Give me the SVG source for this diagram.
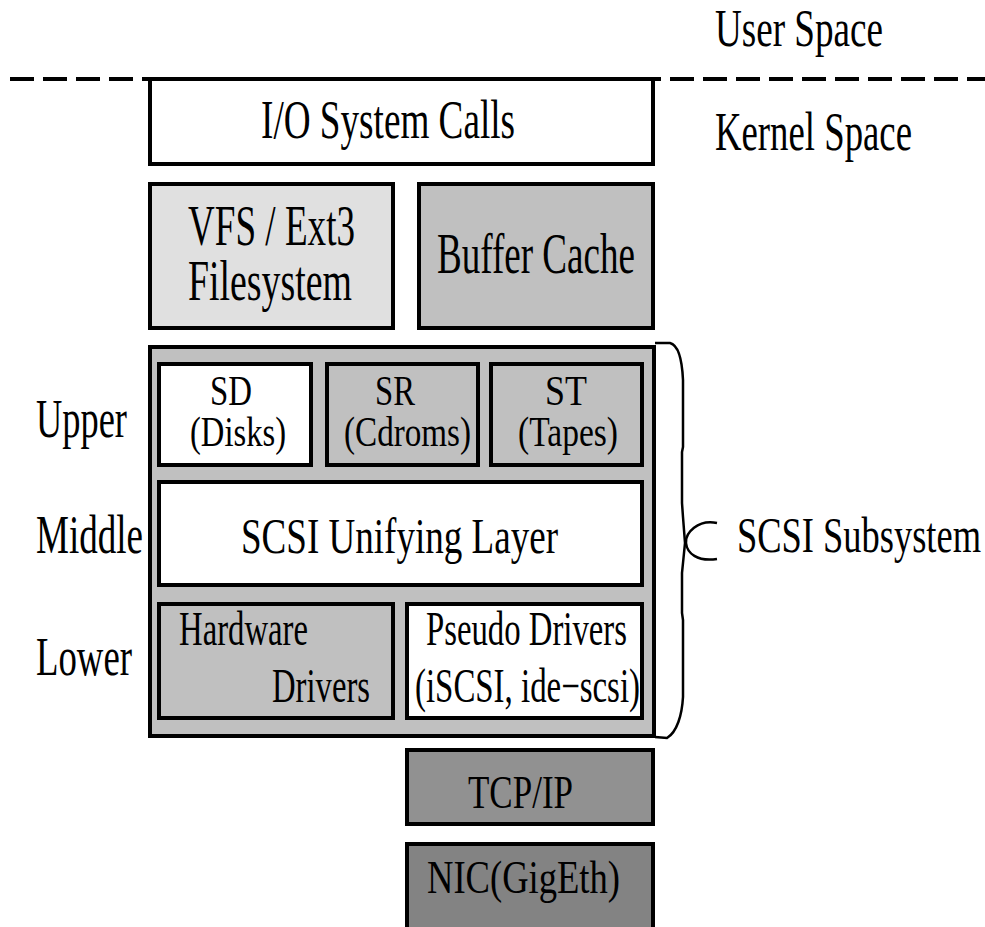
<svg xmlns="http://www.w3.org/2000/svg" width="985" height="927" viewBox="0 0 985 927" font-family="'Liberation Serif', 'DejaVu Serif', serif">
<style>
.b{stroke:#000;stroke-width:4}
.w{fill:#fff}
.l{fill:#e0e0e0}
.g{fill:#c0c0c0}
.d{fill:#919191}
.dd{fill:#838383}
.br{fill:none;stroke:#000;stroke-width:2.5}
</style>
<rect width="985" height="927" fill="#fff"/>
<g id="divider">
<line x1="10" y1="79" x2="985" y2="79" stroke="#000" stroke-width="4" stroke-dasharray="24 9"/>
</g>
<g id="user-space"><text x="715" y="46" font-size="52" textLength="168" lengthAdjust="spacingAndGlyphs">User Space</text></g>
<g id="kernel-space"><text x="715" y="150" font-size="54" textLength="197" lengthAdjust="spacingAndGlyphs">Kernel Space</text></g>
<g id="io-calls">
<rect class="b w" x="150" y="79" width="503" height="85"/>
<text x="261" y="138" font-size="54" textLength="254" lengthAdjust="spacingAndGlyphs">I/O System Calls</text>
</g>
<g id="vfs">
<rect class="b l" x="150" y="184" width="243" height="144"/>
<text x="188" y="245" font-size="56" textLength="167" lengthAdjust="spacingAndGlyphs">VFS / Ext3</text>
<text x="188" y="300" font-size="56" textLength="164" lengthAdjust="spacingAndGlyphs">Filesystem</text>
</g>
<g id="buffer-cache">
<rect class="b g" x="419" y="184" width="234" height="144"/>
<text x="437" y="273" font-size="56" textLength="198" lengthAdjust="spacingAndGlyphs">Buffer Cache</text>
</g>
<g id="scsi">
<rect class="b g" x="150" y="347" width="504" height="389"/>
</g>
<g id="sd">
<rect class="b w" x="159" y="364" width="152" height="101"/>
<text x="210" y="405" font-size="42" textLength="42" lengthAdjust="spacingAndGlyphs">SD</text>
<text x="190" y="446" font-size="42" textLength="96" lengthAdjust="spacingAndGlyphs">(Disks)</text>
</g>
<g id="sr">
<rect class="b g" x="327" y="364" width="151" height="101"/>
<text x="375" y="405" font-size="42" textLength="40" lengthAdjust="spacingAndGlyphs">SR</text>
<text x="344" y="446" font-size="42" textLength="127" lengthAdjust="spacingAndGlyphs">(Cdroms)</text>
</g>
<g id="st">
<rect class="b g" x="491" y="364" width="151" height="101"/>
<text x="545" y="405" font-size="42" textLength="42" lengthAdjust="spacingAndGlyphs">ST</text>
<text x="518" y="446" font-size="42" textLength="100" lengthAdjust="spacingAndGlyphs">(Tapes)</text>
</g>
<g id="unifying">
<rect class="b w" x="159" y="482" width="483" height="103"/>
<text x="241" y="553" font-size="51" textLength="317" lengthAdjust="spacingAndGlyphs">SCSI Unifying Layer</text>
</g>
<g id="hardware">
<rect class="b g" x="159" y="604" width="234" height="114"/>
<text x="179" y="645" font-size="48" textLength="129" lengthAdjust="spacingAndGlyphs">Hardware</text>
<text x="272" y="702" font-size="48" textLength="98" lengthAdjust="spacingAndGlyphs">Drivers</text>
</g>
<g id="pseudo">
<rect class="b w" x="407" y="604" width="235" height="114"/>
<text x="426" y="645" font-size="48" textLength="201" lengthAdjust="spacingAndGlyphs">Pseudo Drivers</text>
<text x="415" y="702" font-size="48" textLength="225" lengthAdjust="spacingAndGlyphs">(iSCSI, ide−scsi)</text>
</g>
<g id="tcpip">
<rect class="b d" x="407" y="750" width="246" height="74"/>
<text x="468" y="808" font-size="47" textLength="105" lengthAdjust="spacingAndGlyphs">TCP/IP</text>
</g>
<g id="nic">
<rect class="b dd" x="407" y="844" width="246" height="100"/>
<text x="427" y="893" font-size="47" textLength="193" lengthAdjust="spacingAndGlyphs">NIC(GigEth)</text>
</g>
<g id="layer-labels">
<text x="36" y="437" font-size="55" textLength="91" lengthAdjust="spacingAndGlyphs">Upper</text>
<text x="36" y="553" font-size="55" textLength="107" lengthAdjust="spacingAndGlyphs">Middle</text>
<text x="36" y="675" font-size="55" textLength="96" lengthAdjust="spacingAndGlyphs">Lower</text>
</g>
<g id="connectors">
<path class="br" d="M655,343 L670,343 C678,345 682,358 683,380 L683,447 L682,452 L682,503 L683,517 L685,543 L683,563 L682,573 L682,613 L683,620 L683,697 C682,715 677,732 667,738 L655,737"/>
<path class="br" d="M717,523 C698,519 685,533 686,543 C687,553 697,562 717,559"/>
</g>
<g id="scsi-subsystem-label"><text x="737" y="552" font-size="51" textLength="244" lengthAdjust="spacingAndGlyphs">SCSI Subsystem</text></g>
</svg>
